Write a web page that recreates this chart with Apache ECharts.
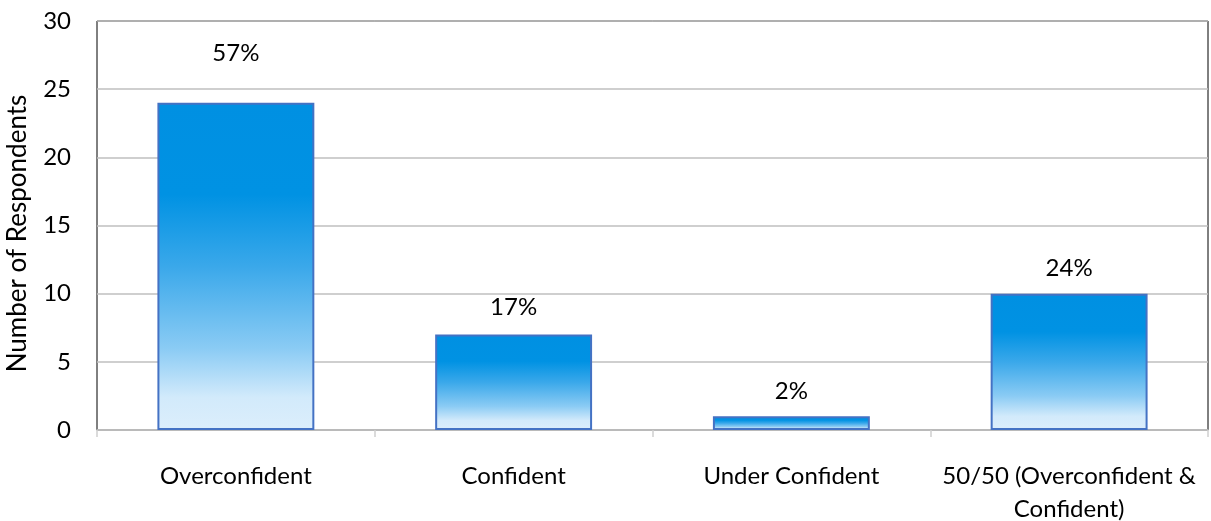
<!DOCTYPE html>
<html><head><meta charset="utf-8">
<script src="https://cdn.jsdelivr.net/npm/echarts@6/dist/echarts.min.js"></script>
<style>html,body{margin:0;padding:0;background:#fff}#c{width:1211px;height:521px}</style>
</head><body><div id="c"></div>
<script>
const categories = ["Overconfident", "Confident", "Under Confident", "50/50 (Overconfident &\nConfident)"];
const respondents = [24, 7, 1, 10];
const percentLabels = ["57%", "17%", "2%", "24%"];
const labelOffsets = [-33, -10, -8, -8];
const yTicks = [0, 5, 10, 15, 20, 25, 30];

const FONT = 'Lato, "Open Sans", sans-serif';
const chart = echarts.init(document.getElementById('c'), null, {renderer: 'canvas'});
const grad = new echarts.graphic.LinearGradient(0, 0, 0, 1, [
  {offset: 0, color: '#0090E2'},
  {offset: 0.28, color: '#0092E3'},
  {offset: 0.5, color: '#3AA8EA'},
  {offset: 0.75, color: '#8ACBF4'},
  {offset: 0.9, color: '#D2EAFB'},
  {offset: 1, color: '#DCEEFC'}
]);
chart.setOption({
  animation: false,
  grid: {left: 97, right: 3, top: 21, bottom: 91, show: true, borderColor: '#000', borderWidth: 1,
    containLabel: false, outerBoundsMode: 'none'},
  xAxis: [{
    type: 'category', data: categories,
    axisLine: {lineStyle: {color: '#BFBFBF', width: 1.5}},
    axisTick: {show: true, length: 7, lineStyle: {color: '#D0D0D0', width: 1.5}},
    axisLabel: {color: '#000', fontSize: 24, fontFamily: FONT, margin: 30, lineHeight: 33,
      interval: 0, hideOverlap: false}
  }, {
    type: 'category', data: categories, position: 'bottom',
    axisLine: {show: false},
    axisTick: {show: true, inside: true, alignWithLabel: true, length: 6, lineStyle: {color: '#D0D0D0', width: 1.5}},
    axisLabel: {show: false}
  }],
  yAxis: {
    type: 'value', min: 0, max: 30, interval: 5,
    name: 'Number of Respondents', nameLocation: 'middle', nameGap: 66,
    nameTextStyle: {color: '#000', fontSize: 26, fontFamily: FONT, padding: [0, 16, 0, 0]},
    axisLine: {show: false}, axisTick: {show: false},
    axisLabel: {color: '#000', fontSize: 24, fontFamily: FONT, margin: 26,
      formatter: v => yTicks.includes(v) ? String(v) : ''},
    splitLine: {lineStyle: {color: '#BFBFBF', width: 1.5}}
  },
  series: [{
    type: 'bar', xAxisIndex: 0, barWidth: '56.5%',
    data: respondents.map((v, i) => ({
      value: v,
      label: {show: true, position: 'top', offset: [0, labelOffsets[i]], formatter: percentLabels[i],
        color: '#000', fontSize: 24, fontFamily: FONT}
    })),
    itemStyle: {color: grad, borderColor: '#4472C4', borderWidth: 2},
    z: 2
  }]
});
</script></body></html>
